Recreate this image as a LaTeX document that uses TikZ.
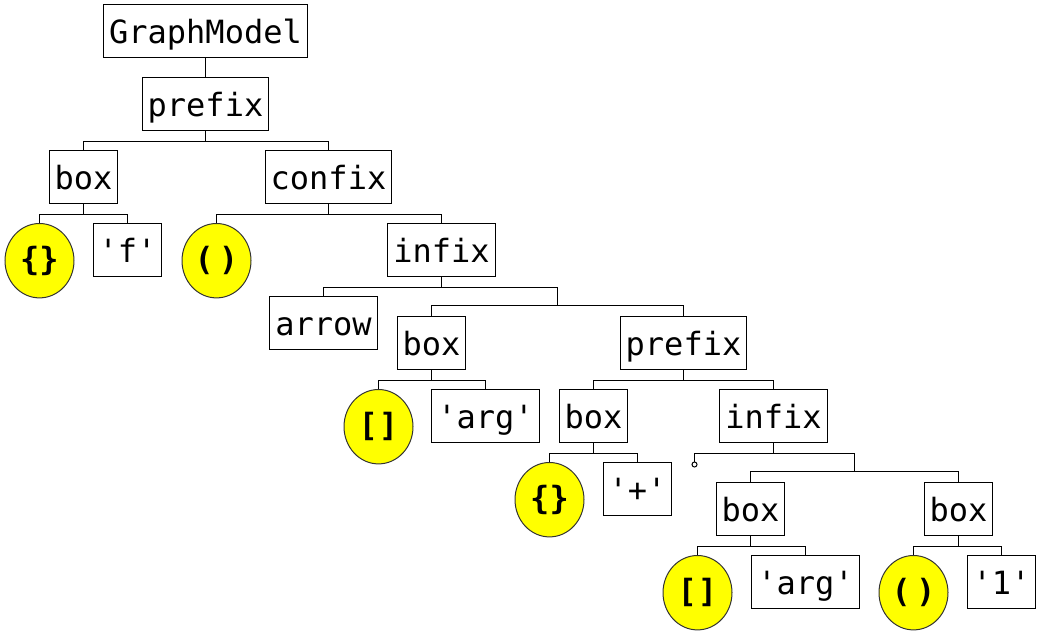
\documentclass[tikz,border=0pt]{standalone}
\usepackage{fontspec}
\newfontfamily\monof{DejaVu Sans Mono}
\usetikzlibrary{shapes.geometric,calc}
\definecolor{yel}{HTML}{FFFF00}
\definecolor{ringc}{HTML}{333333}
\tikzset{
  rbox/.style={draw=black, line width=1.1pt, rectangle, inner sep=0pt,
     minimum height=53pt, text height=30.5pt, text depth=5.5pt,
     font=\monof\fontsize{32}{38}\selectfont},
  w3/.style={rbox, minimum width=68pt},
  w5/.style={rbox, minimum width=108pt},
  w6/.style={rbox, minimum width=126pt},
  w10/.style={rbox, minimum width=204pt},
  blob/.style={draw=ringc, line width=1pt, fill=yel, ellipse, inner sep=0pt,
     minimum width=69pt, minimum height=74.4pt,
     font=\monof\bfseries\fontsize{32}{38}\selectfont},
  edge/.style={draw=black, line width=1pt},
  hole/.style={draw=black, line width=1pt, circle, fill=white, inner sep=0pt, minimum size=5pt}
}
\begin{document}
\begin{tikzpicture}[x=1pt,y=-1pt]
\useasboundingbox (0,0) rectangle (1041,636);
% nodes
\node[w10] (gm) at (205.5,31) {GraphModel};
\node[w6] (pre1) at (205.5,104) {prefix};
\node[w3] (box1) at (83.5,177) {box};
\node[w6] (conf) at (328.5,177) {confix};
\node[blob] (c1) at (39.5,260.7) {\{\}};
\node[w3] (qf) at (127.5,250) {'f'};
\node[blob] (c2) at (216.5,260.7) {(\kern5pt)};
\node[w5] (inf1) at (441.5,250) {infix};
\node[w5] (arrow) at (323.5,323) {arrow};
\node[w3] (box2) at (431.5,343) {box};
\node[w6] (pre2) at (683.5,343) {prefix};
\node[blob] (c3) at (378.5,426.7) {[\kern1pt]};
\node[w5] (arg1) at (485.5,416) {'arg'};
\node[w3] (box3) at (593.5,416) {box};
\node[w5] (inf2) at (773.5,416) {infix};
\node[blob] (c4) at (549.5,499.7) {\{\}};
\node[w3] (plus) at (637.5,489) {'+'};
\node[hole] (sc) at (694.5,464.5) {};
\node[w3] (box4) at (750.5,509) {box};
\node[w3] (box5) at (958.5,509) {box};
\node[blob] (c5) at (697.5,592.7) {[\kern1pt]};
\node[w5] (arg2) at (805.5,582) {'arg'};
\node[blob] (c6) at (913.5,592.7) {(\kern5pt)};
\node[w3] (one) at (1001.5,582) {'1'};
% connectors
\draw[edge] (gm.south) -- (pre1.north);
\draw[edge] (pre1.south) -- ++(0,10) coordinate (b1);
\draw[edge] (box1.north) |- (b1) -| (conf.north);
\draw[edge] (box1.south) -- ++(0,10) coordinate (b2);
\draw[edge] (c1.north) |- (b2) -| (qf.north);
\draw[edge] (conf.south) -- ++(0,10) coordinate (b3);
\draw[edge] (c2.north) |- (b3) -| (inf1.north);
\draw[edge] (inf1.south) -- ++(0,10) coordinate (b4);
\coordinate (j1) at ($(box2.north)!0.5!(pre2.north)+(0,-10)$);
\draw[edge] (arrow.north) |- (b4) -| (j1);
\draw[edge] (box2.north) |- (j1) -| (pre2.north);
\draw[edge] (box2.south) -- ++(0,10) coordinate (b5);
\draw[edge] (c3.north) |- (b5) -| (arg1.north);
\draw[edge] (pre2.south) -- ++(0,10) coordinate (b6);
\draw[edge] (box3.north) |- (b6) -| (inf2.north);
\draw[edge] (box3.south) -- ++(0,10) coordinate (b7);
\draw[edge] (c4.north) |- (b7) -| (plus.north);
\draw[edge] (inf2.south) -- ++(0,10) coordinate (b8);
\coordinate (j2) at ($(box4.north)!0.5!(box5.north)+(0,-10)$);
\draw[edge] (sc.north) |- (b8) -| (j2);
\draw[edge] (box4.north) |- (j2) -| (box5.north);
\draw[edge] (box4.south) -- ++(0,10) coordinate (b9);
\draw[edge] (c5.north) |- (b9) -| (arg2.north);
\draw[edge] (box5.south) -- ++(0,10) coordinate (b10);
\draw[edge] (c6.north) |- (b10) -| (one.north);
\end{tikzpicture}
\end{document}
